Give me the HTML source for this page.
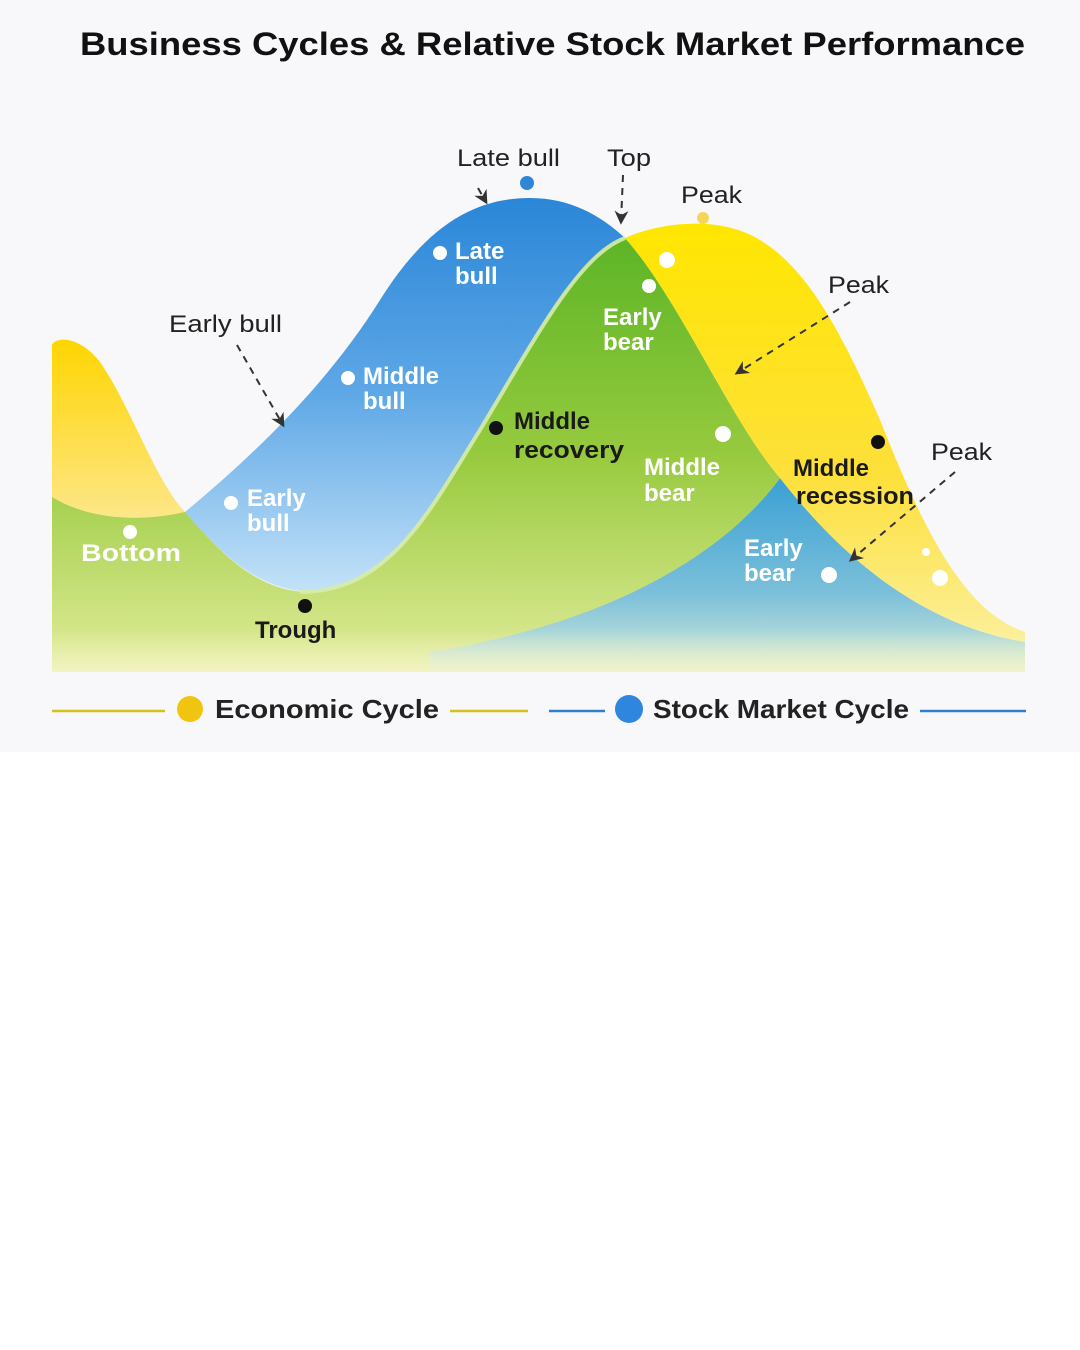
<!DOCTYPE html>
<html><head><meta charset="utf-8"><style>
html,body{margin:0;padding:0;background:#fff;}
svg{display:block;}
text{font-family:"Liberation Sans",sans-serif;}
</style></head><body>
<svg width="1080" height="1350" viewBox="0 0 1080 1350" xmlns="http://www.w3.org/2000/svg">
<defs>
<linearGradient id="base" x1="0" y1="0" x2="0" y2="1">
<stop offset="0" stop-color="#98c84a"/><stop offset="0.55" stop-color="#cfe27a"/><stop offset="1" stop-color="#f2f2b0"/></linearGradient>
<linearGradient id="ylL" x1="0" y1="0" x2="0" y2="1">
<stop offset="0" stop-color="#ffd500"/><stop offset="1" stop-color="#fde688"/></linearGradient>
<linearGradient id="blue" x1="0" y1="0" x2="0" y2="1">
<stop offset="0" stop-color="#2a86d8"/><stop offset="0.5" stop-color="#5fa8e6"/><stop offset="1" stop-color="#c4e2f8"/></linearGradient>
<linearGradient id="blueR" x1="0" y1="0" x2="0" y2="1">
<stop offset="0" stop-color="#3aa0d4"/><stop offset="0.6" stop-color="#7cc0da"/><stop offset="1" stop-color="#d8ecd8"/></linearGradient>
<linearGradient id="green" gradientUnits="userSpaceOnUse" x1="0" y1="238" x2="0" y2="672">
<stop offset="0" stop-color="#5cb526"/><stop offset="0.5" stop-color="#97ca3e"/><stop offset="1" stop-color="#e2ec9a"/></linearGradient>
<linearGradient id="yl" x1="0" y1="0" x2="0" y2="1">
<stop offset="0" stop-color="#ffe600"/><stop offset="0.6" stop-color="#fde03a"/><stop offset="1" stop-color="#fcef9a"/></linearGradient>
<linearGradient id="fade" x1="0" y1="0" x2="0" y2="1">
<stop offset="0" stop-color="#f4f4c8" stop-opacity="0"/><stop offset="1" stop-color="#f4f4c8" stop-opacity="0.85"/></linearGradient>
<marker id="ah" viewBox="0 0 10 10" refX="8" refY="5" markerWidth="7" markerHeight="7" orient="auto"><path d="M0,0 L10,5 L0,10 L3,5 Z" fill="#333"/></marker>
</defs>
<rect x="0" y="0" width="1080" height="752" fill="#f8f8fa"/>

<!-- base -->
<path d="M52,497 C90,520 140,522 185,512 C230,565 265,592 310,592 L430,652 L1025,640 L1025,672 L52,672 Z" fill="url(#base)"/>
<!-- blue right bottom -->
<path d="M780,478 C840,555 920,625 1025,642 L1025,672 L430,672 L430,650 C600,620 720,560 780,478 Z" fill="url(#blueR)"/>
<!-- blue stock main -->
<path d="M185,512 C260,450 330,380 380,300 C430,220 480,198 530,198 C570,198 600,215 625,238 C580,255 540,330 480,430 C430,510 390,592 310,592 C265,590 230,565 185,512 Z" fill="url(#blue)"/>
<!-- green hill + lower left -->
<path d="M310,592 C390,592 430,510 480,430 C540,330 580,255 625,238 C680,300 730,420 780,478 C720,560 600,625 430,652 L430,672 L52,672 L52,497 C90,520 140,522 185,512 C230,565 265,592 310,592 Z" fill="url(#green)"/>
<path d="M300,592 C390,592 430,510 480,430 C540,330 580,255 625,238" fill="none" stroke="#d6eca6" stroke-width="4" opacity="0.9"/>
<!-- left yellow hump -->
<path d="M52,497 L52,345 C56,336 80,336 100,362 C130,405 155,480 185,512 C140,522 90,520 52,497 Z" fill="url(#ylL)"/>
<!-- yellow econ right -->
<path d="M625,238 C660,222 720,215 760,240 C810,270 845,340 880,420 C920,520 960,610 1025,632 L1025,642 C920,625 840,555 780,478 C730,420 680,300 625,238 Z" fill="url(#yl)"/>
<rect x="52" y="630" width="973" height="42" fill="url(#fade)"/>

<!-- title -->
<text x="80" y="55" font-size="32" font-weight="bold" fill="#111" textLength="945" lengthAdjust="spacingAndGlyphs">Business Cycles &amp; Relative Stock Market Performance</text>

<!-- outside labels -->
<g font-size="24" fill="#222">
<text x="457" y="166" textLength="103" lengthAdjust="spacingAndGlyphs">Late bull</text>
<text x="607" y="166" textLength="44" lengthAdjust="spacingAndGlyphs">Top</text>
<text x="681" y="203" textLength="61" lengthAdjust="spacingAndGlyphs">Peak</text>
<text x="828" y="293" textLength="61" lengthAdjust="spacingAndGlyphs">Peak</text>
<text x="931" y="460" textLength="61" lengthAdjust="spacingAndGlyphs">Peak</text>
<text x="169" y="332" textLength="113" lengthAdjust="spacingAndGlyphs">Early bull</text>
</g>
<circle cx="527" cy="183" r="7" fill="#2f86d6"/>
<circle cx="703" cy="218" r="6" fill="#f6d65a"/>
<g stroke="#333" stroke-width="2" stroke-dasharray="7,6" fill="none" marker-end="url(#ah)">
<line x1="478" y1="188" x2="486" y2="202"/>
<line x1="623" y1="175" x2="621" y2="222"/>
<line x1="850" y1="302" x2="737" y2="373"/>
<line x1="955" y1="472" x2="851" y2="560"/>
<line x1="237" y1="345" x2="283" y2="425"/>
</g>

<!-- dots -->
<g fill="#fff">
<circle cx="440" cy="253" r="7"/><circle cx="348" cy="378" r="7"/><circle cx="231" cy="503" r="7"/>
<circle cx="130" cy="532" r="7"/><circle cx="667" cy="260" r="8"/><circle cx="649" cy="286" r="7"/>
<circle cx="723" cy="434" r="8"/><circle cx="829" cy="575" r="8"/><circle cx="940" cy="578" r="8"/>
<circle cx="926" cy="552" r="4"/>
</g>
<g fill="#111"><circle cx="305" cy="606" r="7"/><circle cx="496" cy="428" r="7"/><circle cx="878" cy="442" r="7"/></g>

<!-- inner labels -->
<g font-size="24" font-weight="bold" fill="#fff">
<text x="455" y="259">Late</text><text x="455" y="284">bull</text>
<text x="363" y="384">Middle</text><text x="363" y="409">bull</text>
<text x="247" y="506">Early</text><text x="247" y="531">bull</text>
<text x="81" y="561" textLength="100" lengthAdjust="spacingAndGlyphs">Bottom</text>
<text x="603" y="325">Early</text><text x="603" y="350">bear</text>
<text x="644" y="475">Middle</text><text x="644" y="501">bear</text>
<text x="744" y="556">Early</text><text x="744" y="581">bear</text>
</g>
<g font-size="24" font-weight="bold" fill="#1a1a1a">
<text x="255" y="638">Trough</text>
<text x="514" y="429">Middle</text><text x="514" y="458" textLength="110" lengthAdjust="spacingAndGlyphs">recovery</text>
<text x="793" y="476">Middle</text><text x="796" y="504" textLength="118" lengthAdjust="spacingAndGlyphs">recession</text>
</g>

<!-- legend -->
<line x1="52" y1="711" x2="165" y2="711" stroke="#d4c21a" stroke-width="2.5"/>
<circle cx="190" cy="709" r="13" fill="#f1c40f"/>
<text x="215" y="718" font-size="26" font-weight="bold" fill="#222" textLength="224" lengthAdjust="spacingAndGlyphs">Economic Cycle</text>
<line x1="450" y1="711" x2="528" y2="711" stroke="#d4c21a" stroke-width="2.5"/>
<line x1="549" y1="711" x2="605" y2="711" stroke="#2f7fd0" stroke-width="2.5"/>
<circle cx="629" cy="709" r="14" fill="#2e86de"/>
<text x="653" y="718" font-size="26" font-weight="bold" fill="#222" textLength="256" lengthAdjust="spacingAndGlyphs">Stock Market Cycle</text>
<line x1="920" y1="711" x2="1026" y2="711" stroke="#2f7fd0" stroke-width="2.5"/>
</svg>
</body></html>
